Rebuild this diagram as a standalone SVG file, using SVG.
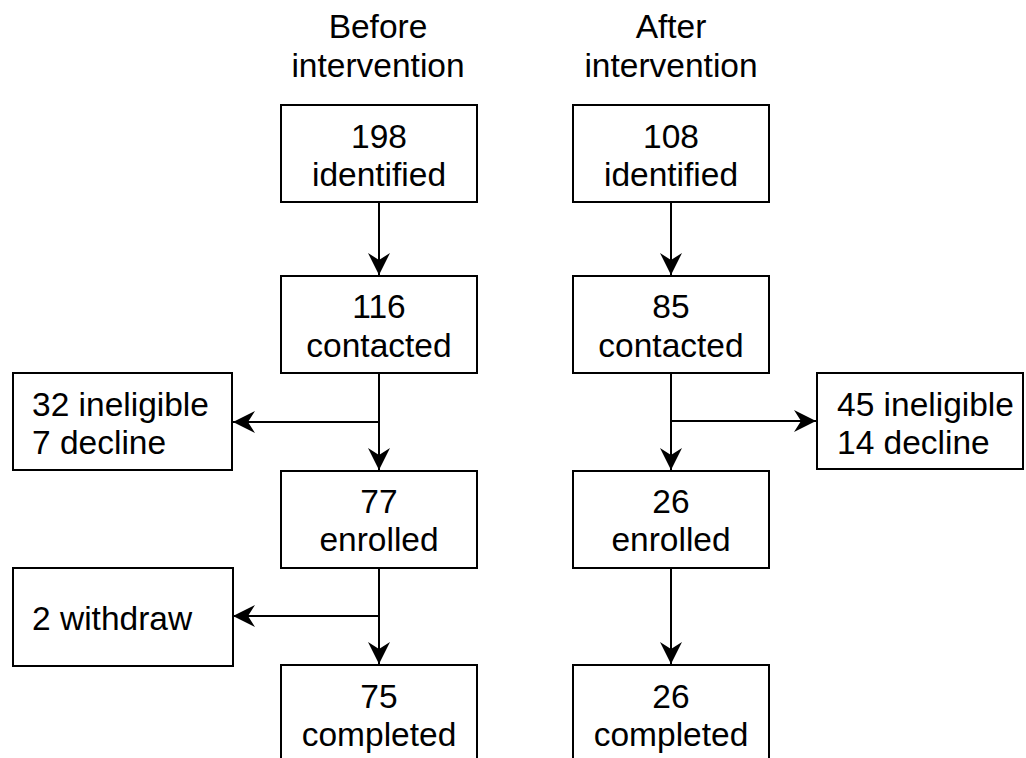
<svg xmlns="http://www.w3.org/2000/svg" width="1026" height="758" viewBox="0 0 1026 758">
<style>
  text { font-family: "Liberation Sans", Arial, sans-serif; font-size: 33.5px; fill: #000; }
  .c { text-anchor: middle; }
  .box { fill: #fff; stroke: #000; stroke-width: 2; }
  .ln { fill: none; stroke: #000; stroke-width: 2; }
</style>
<defs>
  <marker id="arr" markerUnits="userSpaceOnUse" markerWidth="24" markerHeight="24" viewBox="-23 -12 24 24" refX="0" refY="0" orient="auto">
    <path d="M0,0 L-22,-11 L-15,0 L-22,11 Z" fill="#000"/>
  </marker>
</defs>
<rect width="1026" height="758" fill="#fff"/>
<g id="titles">
  <text class="c" x="378" y="38">Before</text>
  <text class="c" x="378" y="77">intervention</text>
  <text class="c" x="671" y="38">After</text>
  <text class="c" x="671" y="77">intervention</text>
</g>
<g id="connectors">
  <line class="ln" x1="379" y1="202" x2="379" y2="275" marker-end="url(#arr)"/>
  <line class="ln" x1="671" y1="202" x2="671" y2="275" marker-end="url(#arr)"/>
  <line class="ln" x1="379" y1="373" x2="379" y2="470" marker-end="url(#arr)"/>
  <line class="ln" x1="379" y1="422" x2="233" y2="422" marker-end="url(#arr)"/>
  <line class="ln" x1="671" y1="373" x2="671" y2="470" marker-end="url(#arr)"/>
  <line class="ln" x1="671" y1="421" x2="816" y2="421" marker-end="url(#arr)"/>
  <line class="ln" x1="379" y1="568" x2="379" y2="664" marker-end="url(#arr)"/>
  <line class="ln" x1="379" y1="616" x2="233" y2="616" marker-end="url(#arr)"/>
  <line class="ln" x1="671" y1="568" x2="671" y2="664" marker-end="url(#arr)"/>
</g>
<g id="b198">
  <rect class="box" x="281" y="105" width="196" height="97"/>
  <text class="c" x="379" y="148">198</text>
  <text class="c" x="379" y="186">identified</text>
</g>
<g id="a108">
  <rect class="box" x="573" y="105" width="196" height="97"/>
  <text class="c" x="671" y="148">108</text>
  <text class="c" x="671" y="186">identified</text>
</g>
<g id="b116">
  <rect class="box" x="281" y="276" width="196" height="97"/>
  <text class="c" x="379" y="318">116</text>
  <text class="c" x="379" y="357">contacted</text>
</g>
<g id="a85">
  <rect class="box" x="573" y="276" width="196" height="97"/>
  <text class="c" x="671" y="318">85</text>
  <text class="c" x="671" y="357">contacted</text>
</g>
<g id="bexcl">
  <rect class="box" x="13" y="373" width="219" height="97"/>
  <text x="32" y="416">32 ineligible</text>
  <text x="32" y="454">7 decline</text>
</g>
<g id="aexcl">
  <rect class="box" x="817" y="373" width="206" height="96"/>
  <text x="837" y="416">45 ineligible</text>
  <text x="837" y="454">14 decline</text>
</g>
<g id="b77">
  <rect class="box" x="281" y="471" width="196" height="97"/>
  <text class="c" x="379" y="513">77</text>
  <text class="c" x="379" y="551">enrolled</text>
</g>
<g id="a26">
  <rect class="box" x="573" y="471" width="196" height="97"/>
  <text class="c" x="671" y="513">26</text>
  <text class="c" x="671" y="551">enrolled</text>
</g>
<g id="bwd">
  <rect class="box" x="13" y="568" width="220" height="98"/>
  <text x="32" y="630">2 withdraw</text>
</g>
<g id="b75">
  <rect class="box" x="281" y="665" width="196" height="97"/>
  <text class="c" x="379" y="708">75</text>
  <text class="c" x="379" y="746">completed</text>
</g>
<g id="a26c">
  <rect class="box" x="573" y="665" width="196" height="97"/>
  <text class="c" x="671" y="708">26</text>
  <text class="c" x="671" y="746">completed</text>
</g>
</svg>
